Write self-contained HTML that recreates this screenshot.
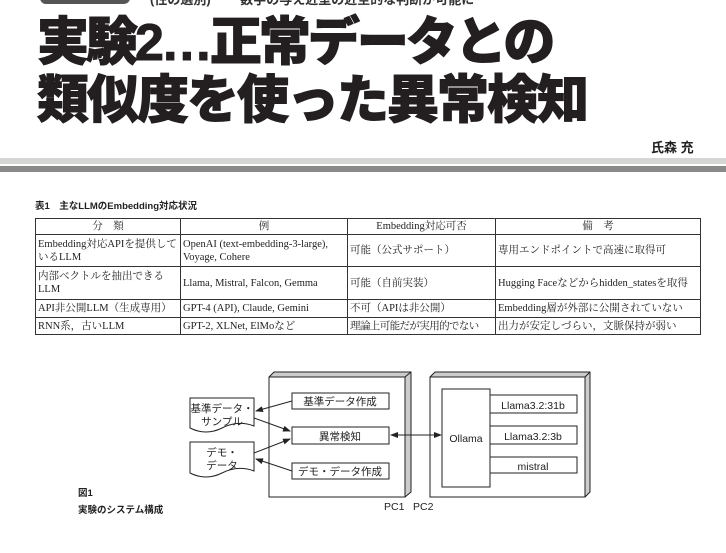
<!DOCTYPE html>
<html><head><meta charset="utf-8"><style>
body{margin:0;width:726px;height:553px;background:#fff;position:relative;overflow:hidden;font-family:"Liberation Sans","Noto Sans CJK JP",sans-serif;}
.a{position:absolute;white-space:nowrap;}
.t{font-family:"Liberation Sans","Noto Sans CJK JP",sans-serif;font-weight:900;font-size:52px;line-height:52px;color:#231f20;-webkit-text-stroke:1px #231f20;}
table{position:absolute;left:35px;top:218px;width:666px;table-layout:fixed;border-collapse:collapse;font-family:"Liberation Serif","Noto Serif CJK JP",serif;font-size:10.5px;line-height:13px;color:#222;}
td{border:1px solid #333;padding:1px 2px;vertical-align:middle;overflow:hidden;}
th{border:1px solid #333;font-weight:normal;padding:1px;height:13px;}
</style></head><body>
<div class="a" style="left:40px;top:-8px;width:90px;height:12px;border-radius:6px;background:#555;"></div>
<div class="a" style="left:150px;top:-11px;font-size:13px;font-weight:bold;color:#333;">(性の選別) ーー数字の与え近型の近空的な判断が可能に</div>
<div class="a t" style="left:37px;top:17px;letter-spacing:-3px;">実験2…正常データとの</div>
<div class="a t" style="left:37px;top:75px;letter-spacing:-2px;">類似度を使った異常検知</div>
<div class="a" style="left:651px;top:137px;font-size:13px;font-weight:bold;color:#222;">氏森 充</div>
<div class="a" style="left:0;top:158px;width:726px;height:6px;background:#d4d6d4;"></div>
<div class="a" style="left:0;top:164px;width:726px;height:2px;background:#fff;"></div>
<div class="a" style="left:0;top:166px;width:726px;height:6px;background:#8a8a8a;"></div>
<div class="a" style="left:35px;top:198px;font-size:9.5px;font-weight:bold;color:#222;">表1　主なLLMのEmbedding対応状況</div>
<table>
<colgroup><col style="width:145px"><col style="width:167px"><col style="width:148px"><col></colgroup>
<tr><th>分　類</th><th>例</th><th>Embedding対応可否</th><th>備　考</th></tr>
<tr style="height:32px"><td>Embedding対応APIを提供しているLLM</td><td>OpenAI (text-embedding-3-large), Voyage, Cohere</td><td>可能（公式サポート）</td><td>専用エンドポイントで高速に取得可</td></tr>
<tr style="height:33px"><td>内部ベクトルを抽出できるLLM</td><td>Llama, Mistral, Falcon, Gemma</td><td>可能（自前実装）</td><td>Hugging Faceなどからhidden_statesを取得</td></tr>
<tr style="height:18px"><td>API非公開LLM（生成専用）</td><td>GPT-4 (API), Claude, Gemini</td><td>不可（APIは非公開）</td><td>Embedding層が外部に公開されていない</td></tr>
<tr style="height:17px"><td>RNN系，古いLLM</td><td>GPT-2, XLNet, ElMoなど</td><td style="letter-spacing:-0.6px">理論上可能だが実用的でない</td><td>出力が安定しづらい，文脈保持が弱い</td></tr>
</table>
<svg class="a" style="left:0;top:0" width="726" height="553" font-family="Liberation Sans, Noto Sans CJK JP, sans-serif" font-size="10.5" fill="none" stroke="#222" stroke-width="1">
<defs><marker id="ar" markerWidth="8" markerHeight="6" refX="7" refY="3" orient="auto"><path d="M0,0 L8,3 L0,6z" fill="#222" stroke="none"/></marker></defs>
<path d="M269,377 L274,372 L411,372 L411,492 L405,497" fill="#ccc"/>
<rect x="269" y="377" width="136" height="120" fill="#fff"/>
<line x1="405" y1="377" x2="411" y2="372"/>
<path d="M430,377 L435,372 L590,372 L590,492 L585,497" fill="#ccc"/>
<rect x="430" y="377" width="155" height="120" fill="#fff"/>
<line x1="585" y1="377" x2="590" y2="372"/>
<rect x="292" y="393" width="97" height="16" fill="#fff"/>
<rect x="292" y="427" width="97" height="17" fill="#fff"/>
<rect x="292" y="463" width="97" height="16" fill="#fff"/>
<path d="M190,398 L254,398 L254,426 Q238,420 222,428 Q206,436 190,428 Z" fill="#fff"/>
<path d="M190,442 L254,442 L254,471 Q238,465 222,473 Q206,481 190,473 Z" fill="#fff"/>
<rect x="442" y="389" width="48" height="98" fill="#fff"/>
<rect x="490" y="395" width="87" height="18" fill="#fff"/>
<rect x="490" y="426" width="87" height="18" fill="#fff"/>
<rect x="490" y="457" width="87" height="16" fill="#fff"/>
<line x1="292" y1="401" x2="256" y2="411" marker-end="url(#ar)"/>
<line x1="254" y1="418" x2="290" y2="431" marker-end="url(#ar)"/>
<line x1="254" y1="453" x2="290" y2="439" marker-end="url(#ar)"/>
<line x1="292" y1="471" x2="256" y2="459" marker-end="url(#ar)"/>
<line x1="420" y1="435" x2="441" y2="435" marker-end="url(#ar)"/>
<line x1="420" y1="435" x2="391" y2="435" marker-end="url(#ar)"/>
<g fill="#222" stroke="none">
<text x="340" y="405" text-anchor="middle">基準データ作成</text>
<text x="340" y="440" text-anchor="middle">異常検知</text>
<text x="340" y="475" text-anchor="middle">デモ・データ作成</text>
<text x="222" y="412" text-anchor="middle">基準データ・</text>
<text x="222" y="425" text-anchor="middle">サンプル</text>
<text x="222" y="456" text-anchor="middle">デモ・</text>
<text x="222" y="469" text-anchor="middle">データ</text>
<text x="466" y="442" text-anchor="middle">Ollama</text>
<text x="533" y="409" text-anchor="middle">Llama3.2:31b</text>
<text x="533" y="440" text-anchor="middle">Llama3.2:3b</text>
<text x="533" y="470" text-anchor="middle">mistral</text>
<text x="384" y="510">PC1</text>
<text x="413" y="510">PC2</text>
<text x="78" y="496" font-size="9.5" font-weight="bold">図1</text>
<text x="78" y="513" font-size="9.5" font-weight="bold">実験のシステム構成</text>
</g>
</svg>
</body></html>
